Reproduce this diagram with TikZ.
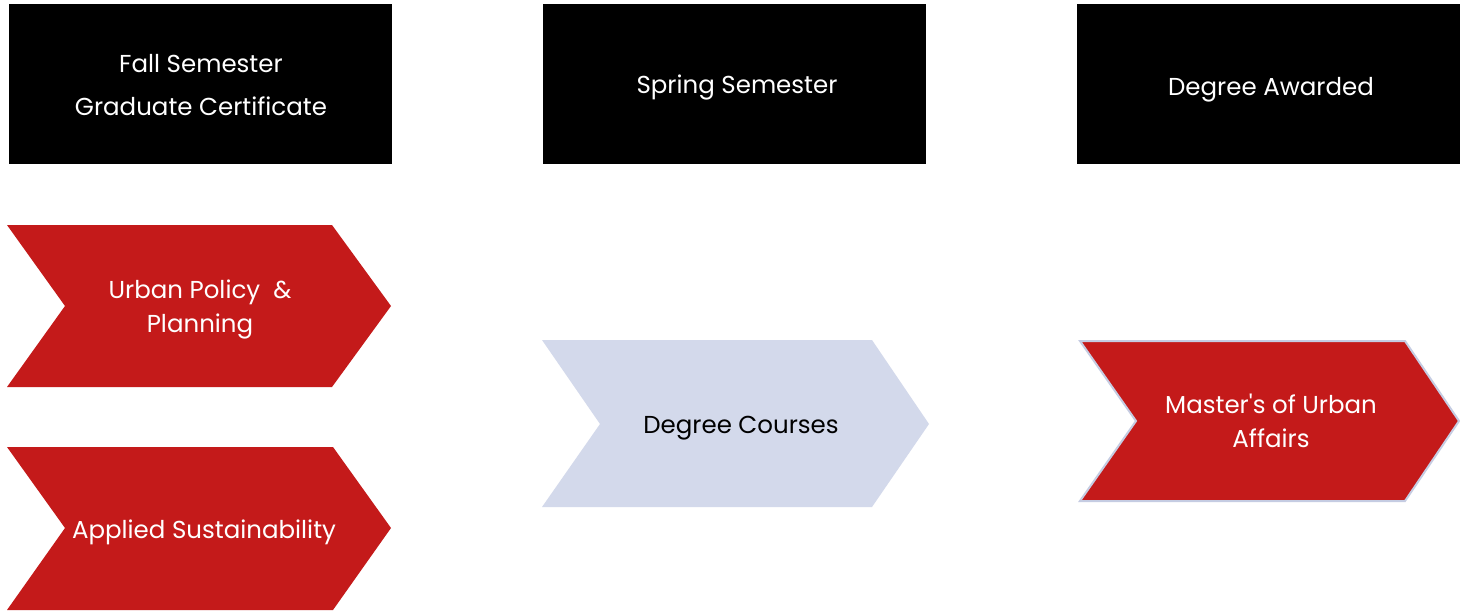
\documentclass[tikz,border=0pt]{standalone}
\usepackage{fontspec}
\setmainfont{Poppins}
\begin{document}
\begin{tikzpicture}[x=1pt,y=-1pt,
  hdr/.style={fill=black},
  redchev/.style={fill=chevred},
  bluechev/.style={fill=chevblue},
  wtxt/.style={text=white,align=center,font=\fontsize{24.5}{34}\selectfont},
  btxt/.style={text=black,align=center,font=\fontsize{24.5}{34}\selectfont}]
\definecolor{chevred}{HTML}{C41A1A}
\definecolor{chevblue}{HTML}{D3D9EB}
\definecolor{chevline}{HTML}{C5CCE2}
\useasboundingbox (0,0) rectangle (1460,611);
\fill[white] (0,0) rectangle (1460,611);
% header boxes
\fill[hdr] (9,4) rectangle (392,164);
\fill[hdr] (543,4) rectangle (926,164);
\fill[hdr] (1077,4) rectangle (1460,164);
\node[wtxt,font=\fontsize{24.5}{43}\selectfont] (fall) at (201,85) {Fall Semester\\Graduate Certificate};
\node[wtxt] (spring) at (737,87) {Spring Semester};
\node[wtxt] (award) at (1271,90) {Degree Awarded};
% chevrons
\fill[redchev] (7,225) -- (332,225) -- (391,306) -- (332,387) -- (7,387) -- (65,306) -- cycle;
\node[wtxt] (upp) at (200,309) {Urban Policy\ \ \&\\Planning};
\fill[redchev] (7,447) -- (333,447) -- (391,528) -- (333,610) -- (7,610) -- (65,528) -- cycle;
\node[wtxt] (as) at (204,532) {Applied Sustainability};
\fill[bluechev] (542,340) -- (872,340) -- (929,424) -- (872,507) -- (542,507) -- (600,424) -- cycle;
\node[btxt] (dc) at (741,428) {Degree Courses};
\filldraw[redchev,draw=chevline,line width=2pt,line join=miter] (1080,341) -- (1405,341) -- (1459,421) -- (1405,501) -- (1080,501) -- (1136,421) -- cycle;
\node[wtxt] (mua) at (1271,421) {Master\textquotesingle s of Urban\\Affairs};
\end{tikzpicture}
\end{document}
